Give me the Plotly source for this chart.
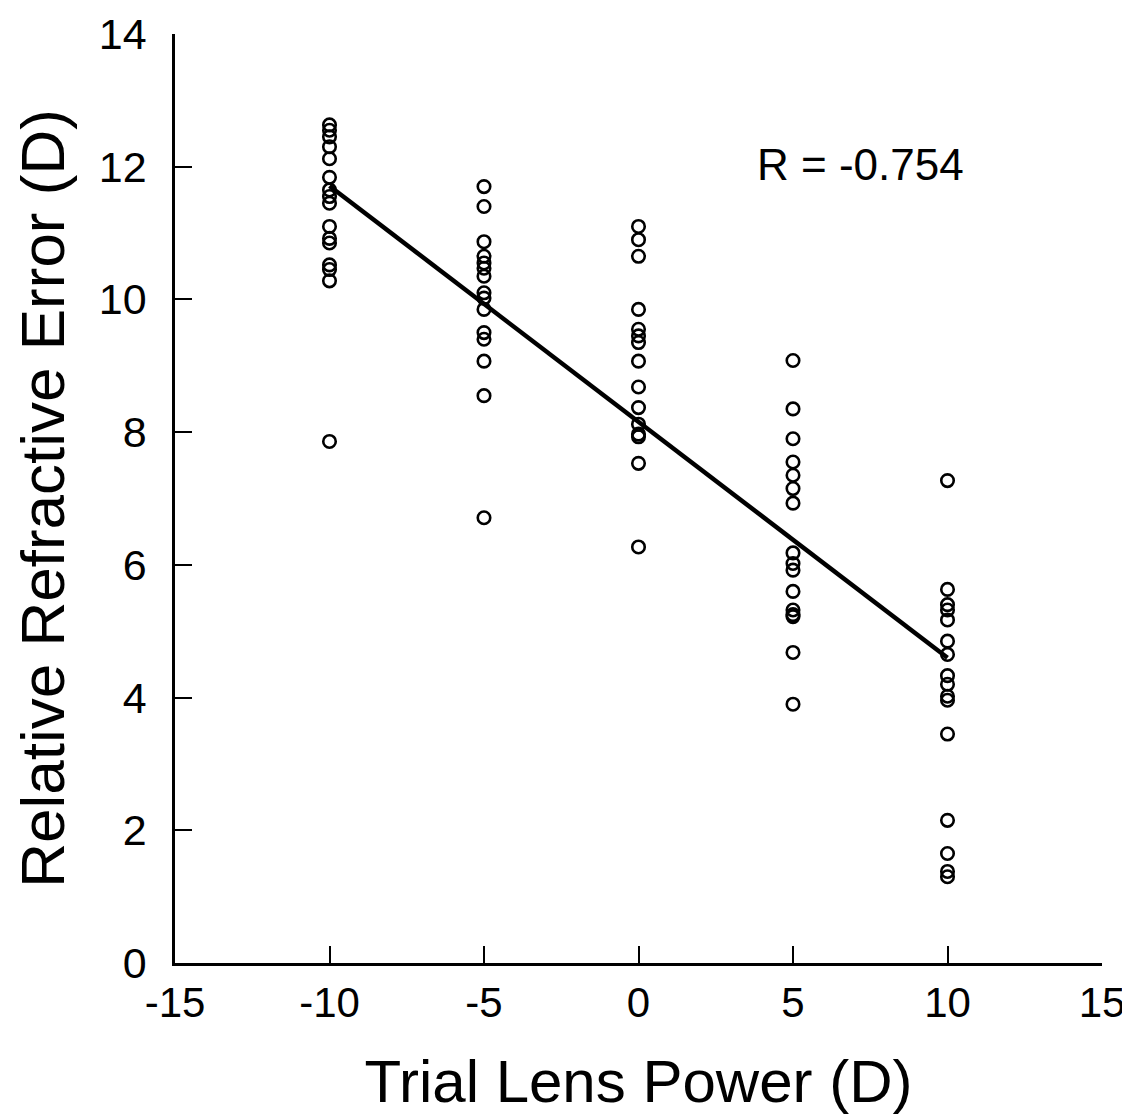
import plotly.graph_objects as go

lens_power = [-10, -5, 0, 5, 10]
refr_m10 = [12.63, 12.55, 12.45, 12.3, 12.12, 11.84, 11.65, 11.55, 11.45, 11.1, 10.92, 10.85, 10.52, 10.45, 10.28, 7.86]
refr_m5 = [11.7, 11.4, 10.87, 10.65, 10.55, 10.47, 10.35, 10.1, 10.02, 9.85, 9.5, 9.4, 9.07, 8.55, 6.71]
refr_0 = [11.1, 10.9, 10.65, 9.85, 9.55, 9.45, 9.35, 9.07, 8.68, 8.37, 8.12, 7.97, 7.93, 7.53, 6.27]
refr_5 = [9.08, 8.35, 7.9, 7.55, 7.35, 7.15, 6.93, 6.18, 6.02, 5.92, 5.6, 5.32, 5.25, 5.22, 4.68, 3.9]
refr_10 = [7.27, 5.63, 5.4, 5.32, 5.17, 4.85, 4.65, 4.33, 4.2, 4.02, 3.96, 3.45, 2.15, 1.65, 1.38, 1.3]
fit_x = [-10, 10]
fit_y = [11.71, 4.6]
r_text = "R = -0.754"
x_ticks = [-15, -10, -5, 0, 5, 10, 15]
x_ticklabels = ["-15", "-10", "-5", "0", "5", "10", "15"]
y_ticks = [0, 2, 4, 6, 8, 10, 12, 14]

groups = [refr_m10, refr_m5, refr_0, refr_5, refr_10]
xs, ys = [], []
for p, g in zip(lens_power, groups):
    xs += [p] * len(g)
    ys += g

fig = go.Figure()
fig.add_trace(go.Scatter(x=xs, y=ys, mode="markers",
                         marker=dict(symbol="circle-open", size=12.5, color="black",
                                     line=dict(width=2.6, color="black")),
                         showlegend=False))
fig.add_trace(go.Scatter(x=fit_x, y=fit_y, mode="lines",
                         line=dict(color="black", width=4.5), showlegend=False))

fig.add_annotation(x=7.2, y=12.03, text=r_text, showarrow=False,
                   font=dict(size=44, color="black", family="Liberation Sans"))

fig.update_layout(
    width=1130, height=1118,
    margin=dict(l=167, r=36, t=26, b=163),
    plot_bgcolor="white", paper_bgcolor="white",
    font=dict(family="Liberation Sans", color="black"),
)
fig.update_xaxes(range=[-15, 15], tickvals=x_ticks, ticktext=x_ticklabels,
                 ticks="inside", ticklen=17, tickwidth=2, tickcolor="black",
                 showline=True, linecolor="black", linewidth=2.5,
                 showgrid=False, zeroline=False, automargin=False,
                 tickfont=dict(size=42), ticklabelstandoff=1,
                 title=dict(text="Trial Lens Power (D)", font=dict(size=60), standoff=35))
fig.update_yaxes(range=[0, 14], tickvals=y_ticks,
                 ticks="inside", ticklen=17, tickwidth=2, tickcolor="black",
                 showline=True, linecolor="black", linewidth=2.5,
                 showgrid=False, zeroline=False, automargin=False,
                 tickfont=dict(size=43), ticklabelstandoff=17,
                 title=dict(text="Relative Refractive Error (D)", font=dict(size=62), standoff=34))

fig.write_html("out.html")
